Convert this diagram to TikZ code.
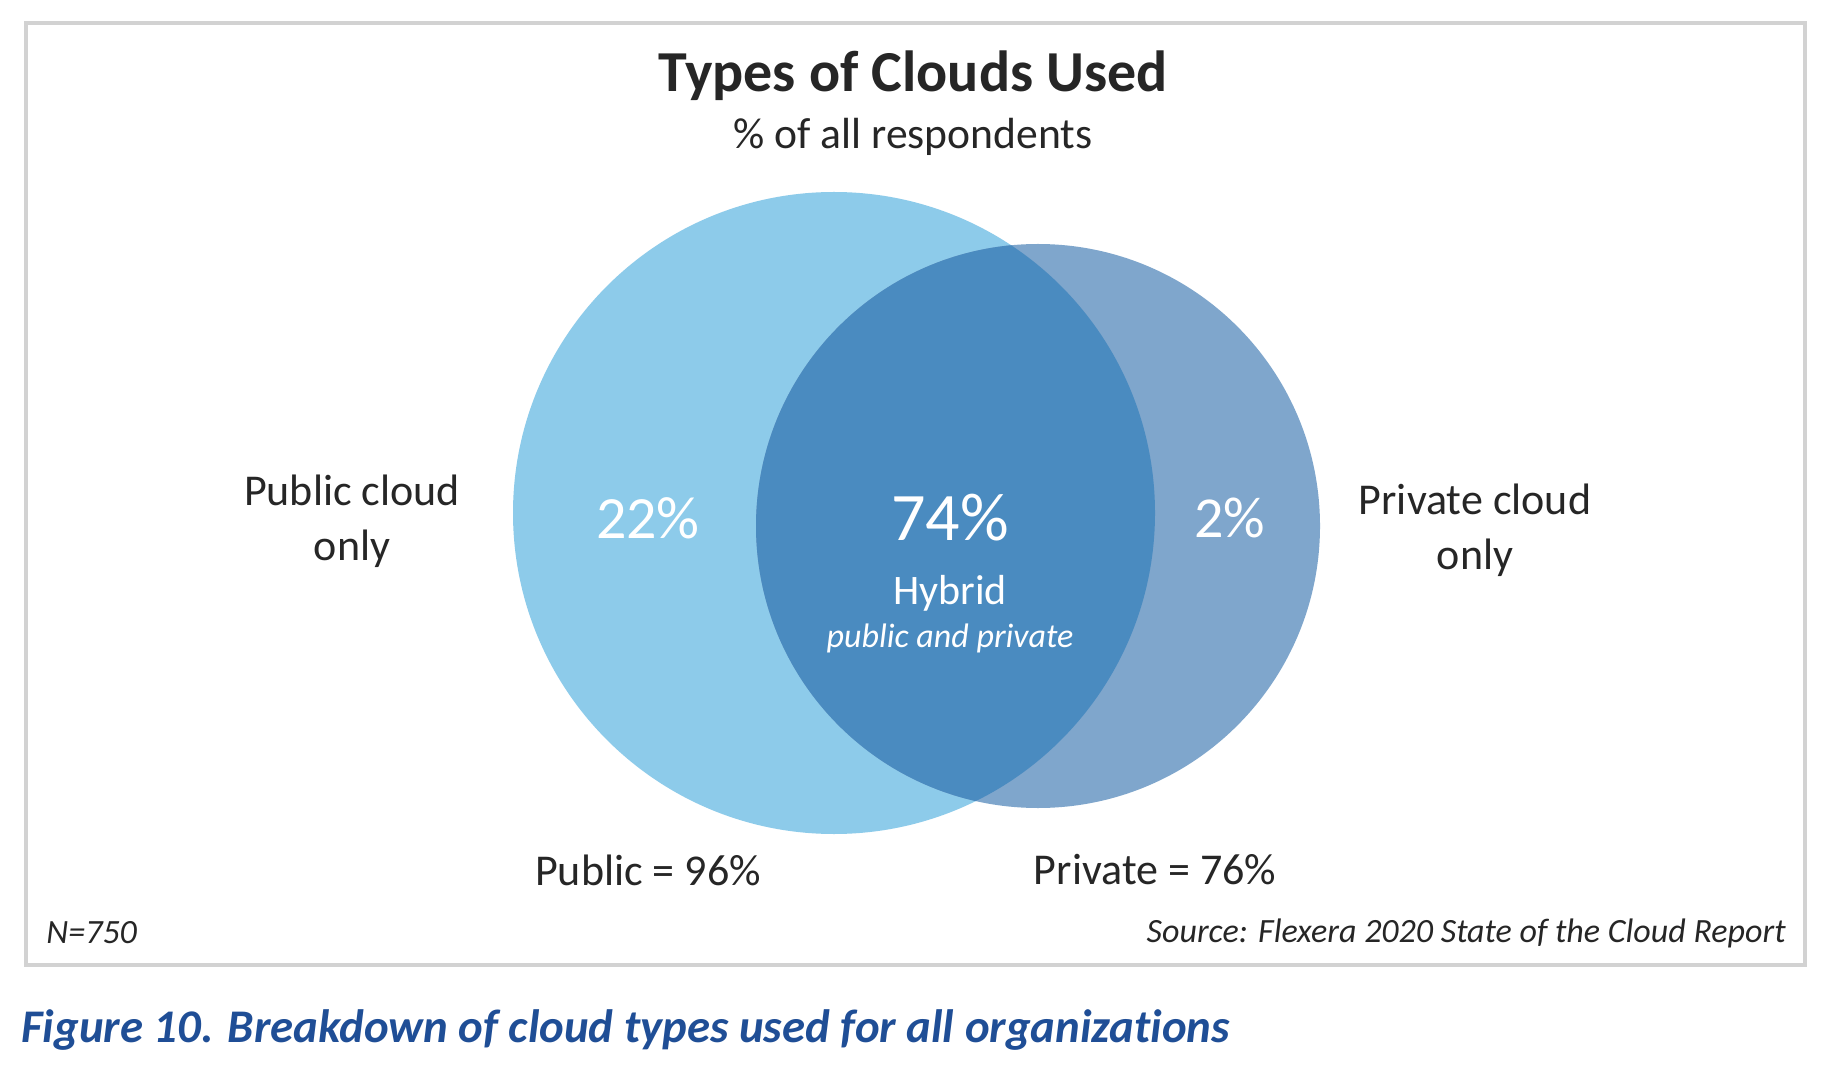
\documentclass[tikz,border=0pt]{standalone}
\usepackage{fontspec}
\setmainfont{Carlito}[RawFeature=-liga]
\definecolor{publicblue}{HTML}{8DCBEA}
\definecolor{privateblue}{HTML}{7FA6CC}
\definecolor{hybridblue}{HTML}{4A8BC0}
\definecolor{captionblue}{HTML}{1F4E96}
\definecolor{textgray}{HTML}{262626}
\newcommand{\fsz}[1]{\fontsize{#1}{1.25\dimexpr#1pt\relax}\selectfont}
\begin{document}
\begin{tikzpicture}[
        x=0.5pt, y=-0.5pt,
        every node/.style={
            font=\fsz{22}, text=textgray, inner sep=0pt
        },
        inlabel/.style={
            text=white
        }
    ]
        \useasboundingbox (0,0) rectangle (1824,1074);
        \fill[white] (0,0) rectangle (1824,1074);

        % Frame
        \draw[gray!35, line width=2pt] (26,23) rectangle (1805,965);

        % Title
        \node (title) at (913,76) {\fsz{29}\bfseries Types of Clouds Used};
        \node (subtitle) at (913,137) {\fsz{21.8}\% of all respondents};

        % Circles
        \fill[publicblue] (834,513) circle (321);
        \fill[privateblue] (1038,526) circle (282);
        \begin{scope}
            \clip (834,513) circle (321);
            \fill[hybridblue] (1038,526) circle (282);
        \end{scope}

        % Labels inside
        \node[inlabel] (pubonly) at (648,518) {\fsz{30}22\%};
        \node[inlabel] (hybrid) at (950,518) {\fsz{34}74\%};
        \node[inlabel] (hybridname) at (950,593) {\fsz{21}Hybrid};
        \node[inlabel] (hybridsub) at (950,638) {\fsz{17}\itshape public and private};
        \node[inlabel] (privonly) at (1230,518) {\fsz{29}2\%};

        % Labels outside
        \node[align=center] (publabel) at (352,521) {Public cloud\\only};
        \node[align=center] (privlabel) at (1475,530) {Private cloud\\only};
        \node (pubtotal) at (648,870) {Public = 96\%};
        \node (privtotal) at (1155,870) {Private = 76\%};

        % Footer
        \node[anchor=west] (nresp) at (46,933) {\fsz{17}\itshape N=750};
        \node[anchor=east] (source) at (1786,933) {\fsz{17}\itshape Source: Flexera 2020 State of the Cloud Report};

        % Caption
        \node[anchor=west, text=captionblue] (caption) at (21,1030) {\fsz{23.4}\bfseries\itshape Figure 10. Breakdown of cloud types used for all organizations};

    \end{tikzpicture}
\end{document}
